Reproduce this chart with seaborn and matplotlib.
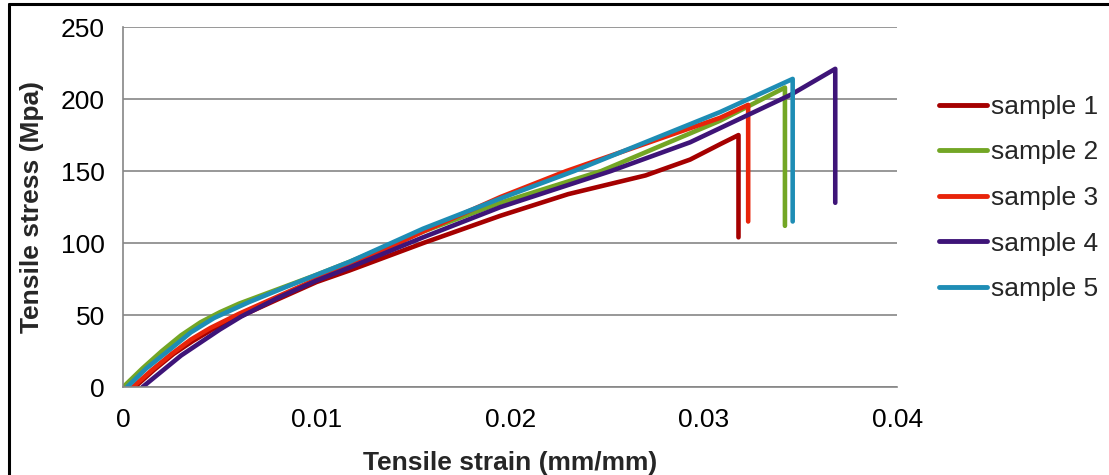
import matplotlib
matplotlib.use("Agg")
import matplotlib.pyplot as plt
from matplotlib.lines import Line2D
import seaborn as sns
import pandas as pd

# Valeurs (déformation mm/mm, contrainte MPa)
strain_1 = [0.0006, 0.0016, 0.0026, 0.0036, 0.0046, 0.0062, 0.008, 0.01, 0.0117, 0.0155, 0.0195,
            0.023, 0.027, 0.0293, 0.0309, 0.0315, 0.0318, 0.0318]
stress_1 = [0, 12, 23, 32, 40, 50, 61, 73, 81, 100, 119, 134, 147, 158, 169, 173, 175, 104]

strain_2 = [0.0, 0.001, 0.002, 0.003, 0.004, 0.005, 0.006, 0.008, 0.01, 0.0117, 0.0155, 0.0195,
            0.0247, 0.03085, 0.0342, 0.0342]
stress_2 = [0, 13, 25, 36, 45, 52, 58, 68, 78, 87, 108, 128, 150, 185, 208, 112]

strain_3 = [0.0005, 0.0015, 0.0025, 0.0035, 0.0045, 0.006, 0.008, 0.01, 0.0117, 0.0155, 0.0195,
            0.0229, 0.03085, 0.0323, 0.0323]
stress_3 = [0, 12, 23, 33, 41, 51, 63, 75, 84, 108, 132, 150, 187, 196, 115]

strain_4 = [0.001, 0.002, 0.003, 0.004, 0.005, 0.0061, 0.008, 0.01, 0.0117, 0.0155, 0.0195,
            0.0252, 0.0293, 0.0345, 0.0368, 0.0368]
stress_4 = [0, 11, 22, 31, 40, 49, 62, 74, 83, 104, 125, 150, 170, 203, 221, 128]

strain_5 = [0.0002, 0.0012, 0.0025, 0.0035, 0.0047, 0.0065, 0.0085, 0.01, 0.0117, 0.0155, 0.0195,
            0.0233, 0.03085, 0.0346, 0.0346]
stress_5 = [0, 13, 27, 38, 48, 59, 70, 78, 87, 110, 131, 150, 191, 214, 115]

labels = ["sample 1", "sample 2", "sample 3", "sample 4", "sample 5"]
colors = ["#A50000", "#73A625", "#E8240A", "#3E1478", "#1E8DB5"]

frames = []
for lab, xs, ys in zip(labels,
                       [strain_1, strain_2, strain_3, strain_4, strain_5],
                       [stress_1, stress_2, stress_3, stress_4, stress_5]):
    frames.append(pd.DataFrame({"strain": xs, "stress": ys, "sample": lab}))
df = pd.concat(frames, ignore_index=True)

sns.set_style("white")
plt.rcParams["font.family"] = ["Liberation Sans", "DejaVu Sans"]

fig = plt.figure(figsize=(11.09, 4.75), dpi=100)
ax = fig.add_axes([0.111, 0.185, 0.698, 0.758])

sns.lineplot(data=df, x="strain", y="stress", hue="sample", palette=colors,
             sort=False, estimator=None, linewidth=3.3, ax=ax, legend=False)
for ln in ax.lines:
    ln.set_solid_joinstyle("round")
    ln.set_solid_capstyle("round")

ax.set_xlim(0, 0.04)
ax.set_ylim(0, 250)
ax.set_xticks([0, 0.01, 0.02, 0.03, 0.04])
ax.set_xticklabels(["0", "0.01", "0.02", "0.03", "0.04"])
ax.set_yticks([0, 50, 100, 150, 200, 250])
ax.yaxis.grid(True, color="#868686", linewidth=1.2)
ax.set_axisbelow(True)

for s in ["top", "right"]:
    ax.spines[s].set_visible(False)
for s in ["left", "bottom"]:
    ax.spines[s].set_color("#868686")
    ax.spines[s].set_linewidth(1.2)

ax.tick_params(axis="both", which="major", labelsize=19, colors="#868686",
               labelcolor="black", direction="out", length=7, width=1.2)
ax.tick_params(axis="x", pad=8)
ax.tick_params(axis="y", pad=6)

ax.set_xlabel("Tensile strain (mm/mm)", fontsize=19, fontweight="bold", labelpad=14)
ax.set_ylabel("Tensile stress (Mpa)", fontsize=19, fontweight="bold", labelpad=12)

handles = [Line2D([0], [0], color=c, lw=3.5, solid_capstyle="round") for c in colors]
fig.legend(handles, labels, loc="center left", bbox_to_anchor=(0.847, 0.583),
           frameon=False, fontsize=19, handlelength=1.8, handletextpad=0.15,
           labelspacing=0.82, borderpad=0, borderaxespad=0)

# cadre du graphique (haut et gauche)
fig.add_artist(Line2D([9 / 1109, 1.0], [1 - 4 / 475, 1 - 4 / 475], color="black", lw=2.2))
fig.add_artist(Line2D([9 / 1109, 9 / 1109], [0, 1 - 4 / 475], color="black", lw=2.2))

fig.savefig("out.png", dpi=100)
